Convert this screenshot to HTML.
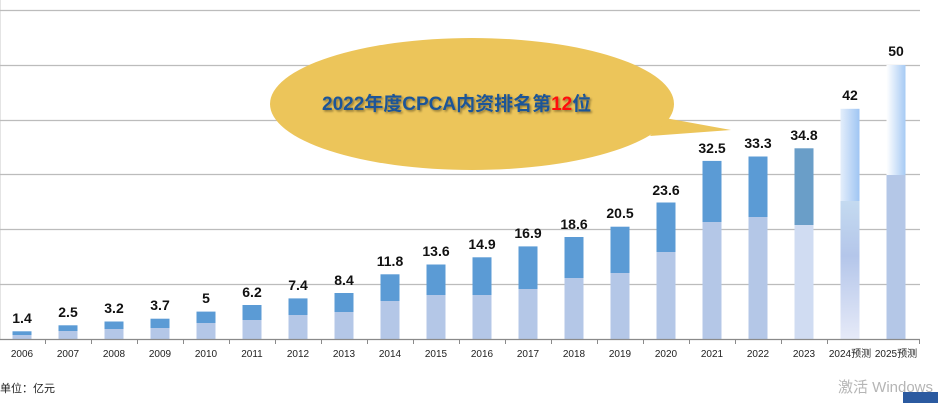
<!DOCTYPE html>
<html><head><meta charset="utf-8"><style>
html,body{margin:0;padding:0;background:#fff;width:938px;height:403px;overflow:hidden}
svg{display:block}
</style></head><body>
<svg width="938" height="403" viewBox="0 0 938 403" xmlns="http://www.w3.org/2000/svg" font-family="Liberation Sans, 'Noto Sans CJK SC', sans-serif">
<defs>
<linearGradient id="g24t" x1="0" y1="0" x2="1" y2="0"><stop offset="0" stop-color="#e4eefb"/><stop offset="1" stop-color="#9fc5f3"/></linearGradient>
<linearGradient id="g24b" x1="0" y1="0" x2="0" y2="1"><stop offset="0" stop-color="#c4daf0"/><stop offset="0.4" stop-color="#b4c6ea"/><stop offset="1" stop-color="#e6eaf8"/></linearGradient>
<linearGradient id="g25t" x1="0" y1="0" x2="1" y2="0"><stop offset="0" stop-color="#ffffff"/><stop offset="1" stop-color="#a6caf4"/></linearGradient>
<filter id="sh"><feDropShadow dx="1.5" dy="1.5" stdDeviation="1" flood-color="#000" flood-opacity="0.4"/></filter>
</defs>
<line x1="0.5" y1="0" x2="0.5" y2="340" stroke="#e4e4e4"/>
<g stroke="#bcbcbc" stroke-width="1.2">
<line x1="0" y1="10.5" x2="920" y2="10.5"/>
<line x1="0" y1="65.5" x2="920" y2="65.5"/>
<line x1="0" y1="120.5" x2="920" y2="120.5"/>
<line x1="0" y1="174.5" x2="920" y2="174.5"/>
<line x1="0" y1="229.5" x2="920" y2="229.5"/>
<line x1="0" y1="284.5" x2="920" y2="284.5"/>
</g>
<g>
<rect x="12.5" y="331.3" width="19" height="3.7" fill="#5b9bd5"/><rect x="12.5" y="335" width="19" height="4" fill="#b4c7e7"/>
<rect x="58.5" y="325.3" width="19" height="5.7" fill="#5b9bd5"/><rect x="58.5" y="331" width="19" height="8" fill="#b4c7e7"/>
<rect x="104.5" y="321.5" width="19" height="7.5" fill="#5b9bd5"/><rect x="104.5" y="329" width="19" height="10" fill="#b4c7e7"/>
<rect x="150.5" y="318.7" width="19" height="9.3" fill="#5b9bd5"/><rect x="150.5" y="328" width="19" height="11" fill="#b4c7e7"/>
<rect x="196.5" y="311.6" width="19" height="11.4" fill="#5b9bd5"/><rect x="196.5" y="323" width="19" height="16" fill="#b4c7e7"/>
<rect x="242.5" y="305" width="19" height="15" fill="#5b9bd5"/><rect x="242.5" y="320" width="19" height="19" fill="#b4c7e7"/>
<rect x="288.5" y="298.4" width="19" height="16.6" fill="#5b9bd5"/><rect x="288.5" y="315" width="19" height="24" fill="#b4c7e7"/>
<rect x="334.5" y="293" width="19" height="19" fill="#5b9bd5"/><rect x="334.5" y="312" width="19" height="27" fill="#b4c7e7"/>
<rect x="380.5" y="274.3" width="19" height="26.7" fill="#5b9bd5"/><rect x="380.5" y="301" width="19" height="38" fill="#b4c7e7"/>
<rect x="426.5" y="264.5" width="19" height="30.5" fill="#5b9bd5"/><rect x="426.5" y="295" width="19" height="44" fill="#b4c7e7"/>
<rect x="472.5" y="257.3" width="19" height="37.7" fill="#5b9bd5"/><rect x="472.5" y="295" width="19" height="44" fill="#b4c7e7"/>
<rect x="518.5" y="246.4" width="19" height="42.6" fill="#5b9bd5"/><rect x="518.5" y="289" width="19" height="50" fill="#b4c7e7"/>
<rect x="564.5" y="237" width="19" height="41" fill="#5b9bd5"/><rect x="564.5" y="278" width="19" height="61" fill="#b4c7e7"/>
<rect x="610.5" y="226.7" width="19" height="46.3" fill="#5b9bd5"/><rect x="610.5" y="273" width="19" height="66" fill="#b4c7e7"/>
<rect x="656.5" y="202.5" width="19" height="49.5" fill="#5b9bd5"/><rect x="656.5" y="252" width="19" height="87" fill="#b4c7e7"/>
<rect x="702.5" y="160.9" width="19" height="61.1" fill="#5b9bd5"/><rect x="702.5" y="222" width="19" height="117" fill="#b4c7e7"/>
<rect x="748.5" y="156.5" width="19" height="60.5" fill="#5b9bd5"/><rect x="748.5" y="217" width="19" height="122" fill="#b4c7e7"/>
<rect x="794.5" y="148.3" width="19" height="76.7" fill="#6a9ec8"/><rect x="794.5" y="225" width="19" height="114" fill="#d0dcf2"/>
<rect x="840.5" y="108.8" width="19" height="92.2" fill="url(#g24t)"/><rect x="840.5" y="201" width="19" height="138" fill="url(#g24b)"/>
<rect x="886.5" y="65" width="19" height="110" fill="url(#g25t)"/><rect x="886.5" y="175" width="19" height="164" fill="#b4c7e7"/>
</g>
<line x1="0" y1="339.5" x2="920" y2="339.5" stroke="#8a8a8a" stroke-width="1.2"/>
<g stroke="#8a8a8a">
<line x1="45.5" y1="339" x2="45.5" y2="344"/><line x1="91.5" y1="339" x2="91.5" y2="344"/><line x1="137.5" y1="339" x2="137.5" y2="344"/><line x1="183.5" y1="339" x2="183.5" y2="344"/><line x1="229.5" y1="339" x2="229.5" y2="344"/><line x1="275.5" y1="339" x2="275.5" y2="344"/><line x1="321.5" y1="339" x2="321.5" y2="344"/><line x1="367.5" y1="339" x2="367.5" y2="344"/><line x1="413.5" y1="339" x2="413.5" y2="344"/><line x1="459.5" y1="339" x2="459.5" y2="344"/><line x1="505.5" y1="339" x2="505.5" y2="344"/><line x1="551.5" y1="339" x2="551.5" y2="344"/><line x1="597.5" y1="339" x2="597.5" y2="344"/><line x1="643.5" y1="339" x2="643.5" y2="344"/><line x1="689.5" y1="339" x2="689.5" y2="344"/><line x1="735.5" y1="339" x2="735.5" y2="344"/><line x1="781.5" y1="339" x2="781.5" y2="344"/><line x1="827.5" y1="339" x2="827.5" y2="344"/><line x1="919.5" y1="339" x2="919.5" y2="344"/>
</g>
<g font-size="14" font-weight="bold" fill="#111" text-anchor="middle">
<text x="22" y="323">1.4</text><text x="68" y="317">2.5</text><text x="114" y="313">3.2</text><text x="160" y="310">3.7</text><text x="206" y="303">5</text><text x="252" y="297">6.2</text><text x="298" y="290">7.4</text><text x="344" y="285">8.4</text><text x="390" y="266">11.8</text><text x="436" y="256">13.6</text><text x="482" y="249">14.9</text><text x="528" y="238">16.9</text><text x="574" y="229">18.6</text><text x="620" y="218">20.5</text><text x="666" y="195">23.6</text><text x="712" y="153">32.5</text><text x="758" y="148">33.3</text><text x="804" y="140">34.8</text><text x="850" y="100">42</text><text x="896" y="56">50</text>
</g>
<g font-size="10" fill="#222" text-anchor="middle">
<text x="22" y="357">2006</text><text x="68" y="357">2007</text><text x="114" y="357">2008</text><text x="160" y="357">2009</text><text x="206" y="357">2010</text><text x="252" y="357">2011</text><text x="298" y="357">2012</text><text x="344" y="357">2013</text><text x="390" y="357">2014</text><text x="436" y="357">2015</text><text x="482" y="357">2016</text><text x="528" y="357">2017</text><text x="574" y="357">2018</text><text x="620" y="357">2019</text><text x="666" y="357">2020</text><text x="712" y="357">2021</text><text x="758" y="357">2022</text><text x="804" y="357">2023</text><text x="850" y="357">2024预测</text><text x="896" y="357">2025预测</text>
</g>
<path d="M665,118 L731,130 L650,136 Z" fill="#ecc55a"/>
<ellipse cx="472" cy="104" rx="202" ry="66" fill="#ecc55a"/>
<text x="322" y="110" font-size="19" font-weight="bold" fill="#1f5597" filter="url(#sh)">2022年度CPCA内资排名第<tspan fill="#ff1010">12</tspan>位</text>
<text x="0" y="392" font-size="11" fill="#222">单位：亿元</text>
<text x="838" y="392" font-size="15" fill="#b5b5b5">激活 Windows</text>
<rect x="903" y="392" width="35" height="11" fill="#2b5aa0"/>
</svg>
</body></html>
